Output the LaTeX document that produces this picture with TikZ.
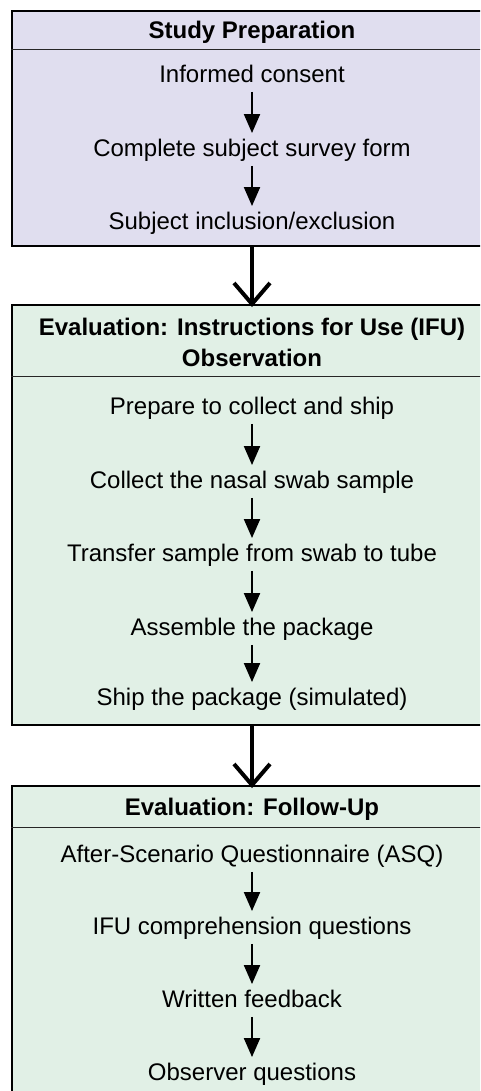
\documentclass[tikz,border=0pt]{standalone}
\usepackage{fontspec}
\setmainfont{Liberation Sans}
\usetikzlibrary{arrows.meta,calc}
\definecolor{lav}{RGB}{224,222,239}
\definecolor{mint}{RGB}{225,240,230}
\begin{document}
\begin{tikzpicture}[x=1pt,y=-1pt,
 panel/.style={draw=black, line width=2pt, rectangle, inner sep=0pt, minimum width=480pt},
 lbl/.style={font=\fontsize{24}{31}\selectfont, text height=17.5pt, text depth=0pt, inner sep=0pt, align=center},
 ttl/.style={lbl, font=\fontsize{24}{31}\selectfont\bfseries},
 sep/.style={line width=1pt, draw=black!85},
 flow/.style={line width=2pt, -{Triangle[length=19pt,width=16pt]}, shorten <=9pt, shorten >=6pt},
 big/.style={line width=4pt, line join=miter}
]
\clip (0,0) rectangle (480,1091);
\fill[white] (0,0) rectangle (480,1091);

% panels
\node[panel, fill=lav, minimum height=235pt] (p1) at (252,128.5) {};
\node[panel, fill=mint, minimum height=420pt] (p2) at (252,515) {};
\node[panel, fill=mint, minimum height=314pt] (p3) at (252,943) {};
\draw[sep] ($(p1.north west)+(0,40)$) -- ($(p1.north east)+(0,40)$);
\draw[sep] ($(p2.north west)+(0,72)$) -- ($(p2.north east)+(0,72)$);
\draw[sep] ($(p3.north west)+(0,42)$) -- ($(p3.north east)+(0,42)$);

% panel 1
\node[ttl] (t1) at (252,30) {Study Preparation};
\node[lbl] (a1) at (252,74) {Informed consent};
\node[lbl] (a2) at (252,148) {Complete subject survey form};
\node[lbl] (a3) at (252,221) {Subject inclusion/exclusion};
\draw[flow] (a1) -- (a2);
\draw[flow] (a2) -- (a3);

% panel 2
\node[ttl] (t2) at (252,358) {Evaluation: Instructions for Use (IFU)\\Observation};
\node[lbl] (b1) at (252,406) {Prepare to collect and ship};
\node[lbl] (b2) at (252,480) {Collect the nasal swab sample};
\node[lbl] (b3) at (252,553) {Transfer sample from swab to tube};
\node[lbl] (b4) at (252,627) {Assemble the package};
\node[lbl] (b5) at (252,697) {Ship the package (simulated)};
\draw[flow] (b1) -- (b2);
\draw[flow] (b2) -- (b3);
\draw[flow] (b3) -- (b4);
\draw[flow] (b4) -- (b5);

% panel 3
\node[ttl] (t3) at (252,807) {Evaluation: Follow-Up};
\node[lbl] (c1) at (252,854) {After-Scenario Questionnaire (ASQ)};
\node[lbl] (c2) at (252,926) {IFU comprehension questions};
\node[lbl] (c3) at (252,999) {Written feedback};
\node[lbl] (c4) at (252,1072) {Observer questions};
\draw[flow] (c1) -- (c2);
\draw[flow] (c2) -- (c3);
\draw[flow] (c3) -- (c4);

% big connectors
\draw[big] (p1.south) -- (p2.north);
\draw[big] ($(p2.north)+(-18,-21)$) -- (p2.north) -- ++(18,-21);
\draw[big] (p2.south) -- (p3.north);
\draw[big] ($(p3.north)+(-18,-21)$) -- (p3.north) -- ++(18,-21);
\end{tikzpicture}
\end{document}
